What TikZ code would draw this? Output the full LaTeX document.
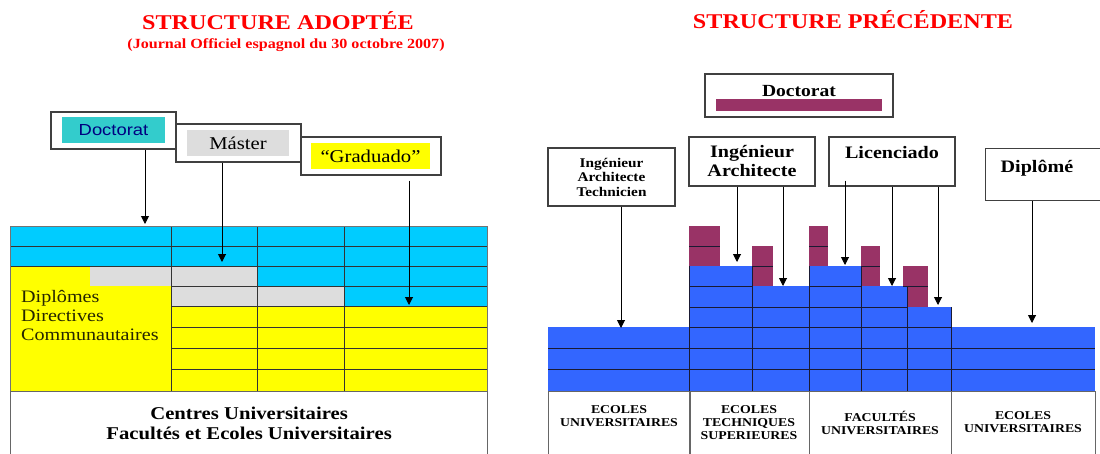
\documentclass[tikz,border=0pt]{standalone}
\usepackage{fontspec}
\setmainfont{Liberation Serif}[FakeStretch=1.15]
\newfontfamily\sansf{Liberation Sans}[FakeStretch=1.15]
\usetikzlibrary{arrows.meta}
\definecolor{tred}{HTML}{FF0000}
\definecolor{lcyan}{HTML}{00CCFF}
\definecolor{lteal}{HTML}{33CCCC}
\definecolor{lgray}{HTML}{DDDDDD}
\definecolor{lyel}{HTML}{FFFF00}
\definecolor{rblue}{HTML}{3366FF}
\definecolor{rpur}{HTML}{993366}
\definecolor{navyt}{HTML}{000080}
\definecolor{olivet}{HTML}{262600}
\definecolor{lined}{HTML}{1A1A33}
\newcommand\fsz[2]{\fontsize{#1}{#2}\selectfont}
\begin{document}
\begin{tikzpicture}[x=1pt,y=-1pt,
  ttl/.style={text=tred, font=\bfseries\fsz{21}{25}, inner sep=0, anchor=base},
  bx/.style={draw=black!75, line width=1.2pt, fill=white, inner sep=0},
  lab/.style={inner sep=0, minimum height=26},
  gl/.style={draw=black!80, line width=0.8pt},
  bl/.style={draw=lined, line width=0.8pt},
  arr/.style={draw=black, line width=1pt, -{Triangle[width=8pt,length=8pt]}},
  rbox/.style={draw=black!60, line width=1.2pt, anchor=north west, minimum height=64, inner sep=0},
  stxt/.style={font=\bfseries\fsz{12}{13}, align=center, inner sep=0},
  btxt/.style={font=\bfseries\fsz{17.5}{19}, align=center, inner sep=0}]
\useasboundingbox (0,0) rectangle (1100,453);

% titles
\node[ttl] (t1) at (278,29) {STRUCTURE ADOPTÉE};
\node[text=tred, font=\bfseries\fsz{14}{16}, anchor=base, inner sep=0] (t1s) at (286,48) {(Journal Officiel espagnol du 30 octobre 2007)};
\node[ttl] (t2) at (853,28) {STRUCTURE PRÉCÉDENTE};

% ---------------- left grid
\fill[lcyan] (10,226) rectangle (487,266);
\fill[lcyan] (257,266) rectangle (487,286);
\fill[lcyan] (344,286) rectangle (487,306);
\fill[lyel] (10,266) rectangle (171,391);
\fill[lgray] (90,266) rectangle (171,286);
\fill[lgray] (171,266) rectangle (257,286);
\fill[lgray] (171,286) rectangle (344,306);
\fill[lyel] (171,306) rectangle (487,391);
\draw[gl] (10,246) -- (487,246) (10,266) -- (487,266);
\foreach \y in {286,306,327,348,369} \draw[gl] (171,\y) -- (487,\y);
\foreach \x in {171,257,344} \draw[gl] (\x,226) -- (\x,391);
\draw[draw=black!55, line width=0.8pt] (10,226) rectangle (487,391);

\node[anchor=west, align=left, inner sep=0, text=olivet, font=\fsz{17.5}{19}] (ldip) at (21,315) {Diplômes\\Directives\\Communautaires};

\node[draw=black!60, line width=1.2pt, minimum width=477, minimum height=64, anchor=north west, align=center, inner sep=0, font=\bfseries\fsz{18}{20}] (lbot) at (10,391) {Centres Universitaires\\Facultés et Ecoles Universitaires};

% left label boxes
\node[bx, minimum width=125, minimum height=37] (ldoc) at (113.5,130.5) {};
\node[lab, fill=lteal, minimum width=103, text=navyt, font=\sansf\fsz{16}{18}] (ldocl) at (113.5,130) {Doctorat};
\node[bx, minimum width=125, minimum height=38] (lmas) at (238.5,143) {};
\node[lab, fill=lgray, minimum width=102, font=\fsz{18}{20}] (lmasl) at (238,143) {Máster};
\node[bx, minimum width=140, minimum height=38] (lgra) at (371,156) {};
\node[lab, fill=lyel, minimum width=119, font=\fsz{18}{20}] (lgral) at (370.5,156) {“Graduado”};

\coordinate (tl1) at (145,224);
\coordinate (tl2) at (222,262);
\coordinate (tl3) at (409,305);
\draw[arr] (ldoc.south -| tl1) -- (tl1);
\draw[arr] (lmas.south -| tl2) -- (tl2);
\draw[arr, shorten <=5pt] (lgra.south -| tl3) -- (tl3);

% ---------------- right blocks
\fill[rblue] (548,327) rectangle (689,391);
\fill[rblue] (689,266) rectangle (752,391);
\fill[rblue] (752,286) rectangle (809,391);
\fill[rblue] (809,266) rectangle (861,391);
\fill[rblue] (861,286) rectangle (907,391);
\fill[rblue] (907,307) rectangle (951,391);
\fill[rblue] (951,327) rectangle (1095,391);
\fill[rpur] (689,226) rectangle (720,266);
\fill[rpur] (752,246) rectangle (773,286);
\fill[rpur] (809,226) rectangle (828,266);
\fill[rpur] (861,246) rectangle (880,286);
\fill[rpur] (903,266) rectangle (928,286);
\fill[rpur] (907,286) rectangle (928,307);
\draw[bl] (548,348) -- (1095,348) (548,369) -- (1095,369)
  (689,327) -- (951,327) (689,307) -- (907,307)
  (689,286) -- (752,286) (809,286) -- (861,286);
\draw[bl] (689,246) -- (720,246) (809,246) -- (828,246)
  (752,266) -- (773,266) (861,266) -- (880,266) (903,286) -- (928,286);
\draw[bl] (689,266) -- (689,391) (752,266) -- (752,391) (809,266) -- (809,391)
  (861,266) -- (861,391) (907,286) -- (907,391) (951,307) -- (951,391);

% bottom boxes right
\node[rbox, minimum width=141] (rb1) at (548,391) {};
\node[rbox, minimum width=119] (rb2) at (690,391) {};
\node[rbox, minimum width=142] (rb3) at (809,391) {};
\node[rbox, minimum width=144] (rb4) at (951,391) {};
\node[stxt] (rb1t) at (619,416.5) {ECOLES\\UNIVERSITAIRES};
\node[stxt] (rb2t) at (749,423) {ECOLES\\TECHNIQUES\\SUPERIEURES};
\node[stxt] (rb3t) at (880,422.5) {FACULTÉS\\UNIVERSITAIRES};
\node[stxt] (rb4t) at (1023,422.5) {ECOLES\\UNIVERSITAIRES};

% right label boxes
\node[bx, minimum width=188, minimum height=43] (rdoc) at (799,95.5) {};
\node[font=\bfseries\fsz{17}{19}, inner sep=0, anchor=base] (rdocl) at (799,96) {Doctorat};
\node[fill=rpur, minimum width=166, minimum height=12, inner sep=0] (rdocbar) at (799,105) {};

\node[bx, minimum width=127, minimum height=58, align=center, font=\bfseries\fsz{13.3}{14.5}] (riat) at (611.5,177) {Ingénieur\\Architecte\\Technicien};
\node[bx, minimum width=126, minimum height=49, btxt] (ria) at (752,161.5) {Ingénieur\\Architecte};
\node[bx, minimum width=126, minimum height=49] (rlic) at (892,161.5) {};
\node[btxt, anchor=base] (rlicl) at (892,158) {Licenciado};
\node[bx, minimum width=125, minimum height=52, anchor=north west] (rdip) at (985,148) {};
\node[btxt, anchor=base] (rdipl) at (1037,172) {Diplômé};

\coordinate (r1) at (621,328);
\coordinate (r2) at (737,262);
\coordinate (r3) at (783,286);
\coordinate (r4) at (845,265);
\coordinate (r5) at (892,286);
\coordinate (r6) at (938,305);
\coordinate (r7) at (1032,323);
\draw[arr] (riat.south -| r1) -- (r1);
\draw[arr] (ria.south -| r2) -- (r2);
\draw[arr] (ria.south -| r3) -- (r3);
\draw[arr, shorten <=-6pt] (rlic.south -| r4) -- (r4);
\draw[arr] (rlic.south -| r5) -- (r5);
\draw[arr] (rlic.south -| r6) -- (r6);
\draw[arr] (rdip.south -| r7) -- (r7);
\end{tikzpicture}
\end{document}
